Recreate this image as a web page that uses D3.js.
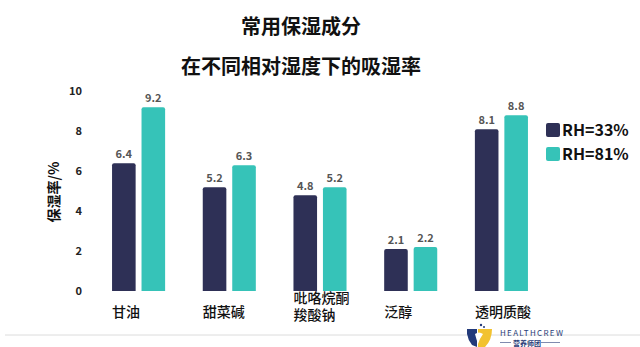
<!DOCTYPE html>
<html>
<head>
<meta charset="utf-8">
<script src="https://cdn.jsdelivr.net/npm/d3@7"></script>
<style>
  html, body { margin: 0; padding: 0; background: #fff; }
  svg { display: block; }
  text { font-family: "Noto Sans CJK SC", "Noto Sans", sans-serif; }
</style>
</head>
<body>
<svg id="chart" width="640" height="347"></svg>
<script>
// Moisture absorption (%) of common humectants at two relative humidities
const categories = [["甘油"], ["甜菜碱"], ["吡咯烷酮", "羧酸钠"], ["泛醇"], ["透明质酸"]];
const seriesNames = ["RH=33%", "RH=81%"];
const rh33 = [6.4, 5.2, 4.8, 2.1, 8.1];
const rh81 = [9.2, 6.3, 5.2, 2.2, 8.8];
const yTicks = [0, 2, 4, 6, 8, 10];
const colors = ["#2e3056", "#36c3b8"];

const svg = d3.select("#chart");

const keys = categories.map(c => c.join(""));
const series = [rh33, rh81];

const x0 = d3.scaleBand().domain(keys).range([93, 547]).paddingInner(0.415).paddingOuter(0.21);
const x1 = d3.scaleBand().domain(seriesNames).range([0, x0.bandwidth()]).paddingInner(0.2);
const y = d3.scaleLinear().domain([0, 10]).range([291, 91.3]);

// Titles
svg.append("text").attr("x", 301).attr("y", 34).attr("text-anchor", "middle")
  .attr("font-size", 20).attr("font-weight", 700).attr("fill", "#111").text("常用保湿成分");
svg.append("text").attr("x", 301).attr("y", 74).attr("text-anchor", "middle")
  .attr("font-size", 20).attr("font-weight", 700).attr("fill", "#111").text("在不同相对湿度下的吸湿率");

// Y axis (labels only)
const yAxis = d3.axisLeft(y).tickValues(yTicks).tickSize(0).tickPadding(0);
const yg = svg.append("g").attr("transform", "translate(82,0)").call(yAxis);
yg.select(".domain").remove();
yg.selectAll("text").attr("font-size", 11).attr("font-weight", 700).attr("fill", "#222")
  .attr("font-family", "'Noto Sans', sans-serif");

svg.append("text").attr("transform", "translate(59,192) rotate(-90)").attr("text-anchor", "middle")
  .attr("font-size", 14).attr("font-weight", 700).attr("fill", "#111").text("保湿率/%");

// Bars
const groups = svg.selectAll("g.grp").data(keys).join("g").attr("class", "grp")
  .attr("transform", k => `translate(${x0(k)},0)`);

groups.each(function(k, i) {
  const g = d3.select(this);
  seriesNames.forEach((s, j) => {
    const v = series[j][i];
    const bx = x1(s), bw = x1.bandwidth();
    const top = y(v), bottom = y(0);
    const r = 2;
    g.append("path")
      .attr("d", `M${bx},${bottom}V${top + r}Q${bx},${top} ${bx + r},${top}H${bx + bw - r}Q${bx + bw},${top} ${bx + bw},${top + r}V${bottom}Z`)
      .attr("fill", colors[j]);
    g.append("text").attr("x", bx + bw / 2).attr("y", top - 5).attr("text-anchor", "middle")
      .attr("font-size", 11).attr("font-weight", 700).attr("fill", "#555")
      .attr("font-family", "'Noto Sans', sans-serif").text(v.toFixed(1));
  });
  // Category label, left aligned at the group start (one text per line)
  const lines = categories[i];
  const base = lines.length === 1 ? [317] : [303, 320];
  lines.forEach((ln, li) => {
    g.append("text").attr("x", 0).attr("y", base[li])
      .attr("font-size", 14).attr("font-weight", 500).attr("fill", "#111").text(ln);
  });
});

// Legend
const leg = svg.append("g").attr("transform", "translate(546,123)");
seriesNames.forEach((s, j) => {
  leg.append("rect").attr("x", 0).attr("y", j * 24).attr("width", 14).attr("height", 14)
    .attr("rx", 2).attr("fill", colors[j]);
  leg.append("text").attr("x", 16).attr("y", j * 24 + 13).attr("font-size", 16).attr("font-weight", 700)
    .attr("fill", "#111").attr("font-family", "'Noto Sans', sans-serif").text(s);
});

// Footer rule and brand mark
svg.append("line").attr("x1", 5).attr("x2", 640).attr("y1", 335).attr("y2", 335)
  .attr("stroke", "#dcdcdc").attr("stroke-width", 1);
const logo = svg.append("g").attr("transform", "translate(467,326)");
logo.append("path").attr("d", "M0,3 L10,3 L10,21 L5,19 Q1,14 0,8 Z").attr("fill", "#233a7a");
logo.append("path").attr("d", "M11,3 L25,3 Q25,14 18,21 L11,21 Z").attr("fill", "#f2c230");
logo.append("path").attr("d", "M8,8 Q12,5 16,8 Q13,12 11,18 Q9,12 8,8 Z").attr("fill", "#fff");
logo.append("circle").attr("cx", 14).attr("cy", -1).attr("r", 1.2).attr("fill", "#233a7a");
logo.append("circle").attr("cx", 17).attr("cy", 1).attr("r", 1).attr("fill", "#233a7a");
logo.append("text").attr("x", 33).attr("y", 10).attr("font-size", 8).attr("letter-spacing", 1.3)
  .attr("fill", "#2a3d78").attr("font-family", "'DejaVu Sans', sans-serif").text("HEALTHCREW");
logo.append("line").attr("x1", 33).attr("x2", 44).attr("y1", 16.5).attr("y2", 16.5).attr("stroke", "#2a3d78").attr("stroke-width", 0.6);
logo.append("line").attr("x1", 74).attr("x2", 93).attr("y1", 16.5).attr("y2", 16.5).attr("stroke", "#2a3d78").attr("stroke-width", 0.6);
logo.append("text").attr("x", 46).attr("y", 19.5).attr("font-size", 7).attr("font-weight", 700)
  .attr("fill", "#2a3d78").text("营养师团");
</script>
</body>
</html>
